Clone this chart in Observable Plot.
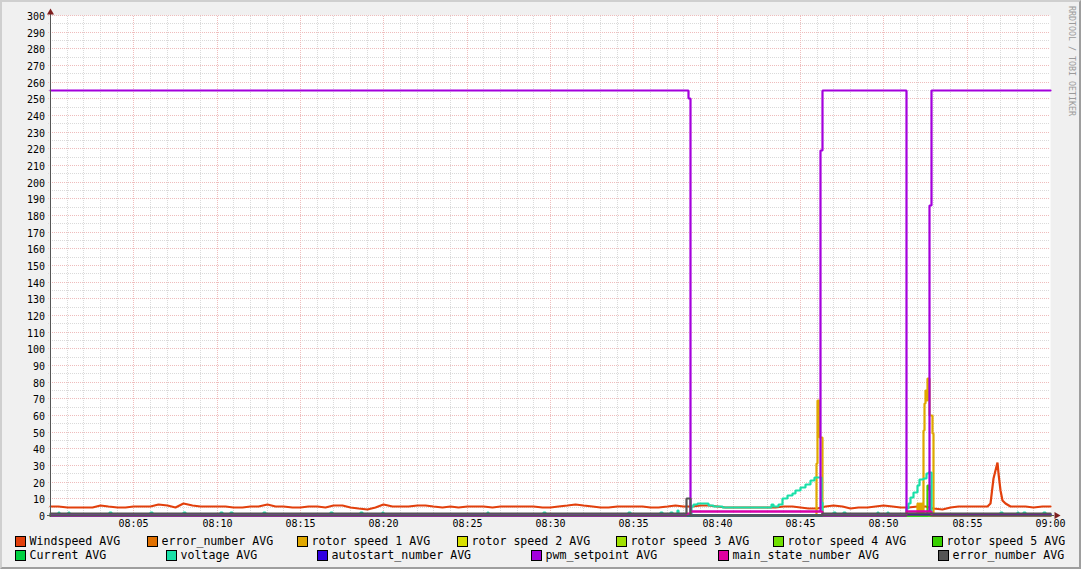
<!DOCTYPE html>
<html><head><meta charset="utf-8">
<script src="https://cdn.jsdelivr.net/npm/d3@7"></script>
<script src="https://cdn.jsdelivr.net/npm/@observablehq/plot@0.6"></script>
<style>
html,body{margin:0;padding:0;background:#f0f0f0;}
#wrap{position:relative;width:1081px;height:569px;background:#f0f0f0;overflow:hidden;font-family:"DejaVu Sans Mono",monospace;}
#chart{position:absolute;left:0;top:0;}
#legend{position:absolute;left:0;top:0;}
#shade{position:absolute;left:0;top:0;width:1081px;height:569px;box-sizing:border-box;border-top:2px solid #cfcfcf;border-left:2px solid #cfcfcf;border-right:2px solid #9e9e9e;border-bottom:2px solid #9e9e9e;pointer-events:none;}
#wm{position:absolute;left:1067px;top:6px;writing-mode:vertical-rl;font-family:"DejaVu Sans Mono",monospace;font-size:8.3px;color:#9a9a9a;white-space:nowrap;}
</style></head><body>
<div id="wrap"><div id="chart"></div><svg id="legend" width="1081" height="569"></svg><div id="wm">RRDTOOL / TOBI OETIKER</div><div id="shade"></div></div>
<script>
// ---- data (x = minutes after 08:00, y = value) ----
const xTicks = [5, 10, 15, 20, 25, 30, 35, 40, 45, 50, 55, 60];
const xTickLabels = ["08:05","08:10","08:15","08:20","08:25","08:30","08:35","08:40","08:45","08:50","08:55","09:00"];
const yTicks = [0,10,20,30,40,50,60,70,80,90,100,110,120,130,140,150,160,170,180,190,200,210,220,230,240,250,260,270,280,290,300];

const seriesNames = ["Windspeed AVG","error_number AVG","rotor speed 1 AVG","rotor speed 2 AVG","rotor speed 3 AVG","rotor speed 4 AVG","rotor speed 5 AVG","Current AVG","voltage AVG","autostart_number AVG","pwm_setpoint AVG","main_state_number AVG","error_number AVG"];
const seriesColors = ["#e2400c","#e07000","#e0a800","#d8e000","#a0e000","#70e000","#38d000","#00d040","#18e0a8","#3000e0","#a400dc","#e000a0","#555555"];

const windspeed = [[0,5.2],[0.5,5.2],[1,5.0],[1.5,5.0],[2,4.8],[2.5,4.6],[3,6.0],[3.5,5.6],[4,4.6],[4.5,4.6],[5,5.2],[5.5,5.2],[6,5.4],[6.5,6.4],[7,5.8],[7.5,5.0],[8,7.0],[8.5,6.0],[9,5.2],[9.5,5.6],[10,5.2],[10.5,5.2],[11,5.0],[11.5,5.0],[12,5.2],[12.5,5.4],[13,6.8],[13.5,5.4],[14,5.2],[14.5,4.6],[15,4.6],[15.5,5.4],[16,5.2],[16.5,4.8],[17,6.0],[17.5,5.8],[18,4.8],[18.5,4.4],[19,3.8],[19.5,5.0],[20,6.6],[20.5,5.4],[21,5.4],[21.5,5.4],[22,5.8],[22.5,6.2],[23,5.4],[23.5,4.8],[24,5.2],[24.5,4.8],[25,5.2],[25.5,5.2],[26,5.2],[26.5,5.0],[27,5.4],[27.5,5.4],[28,5.6],[28.5,5.2],[29,5.4],[29.5,5.0],[30,4.8],[30.5,5.6],[31,5.8],[31.5,6.6],[32,5.8],[32.5,5.4],[33,4.8],[33.5,5.0],[34,5.2],[34.5,5.4],[35,5.2],[35.5,5.4],[36,4.8],[36.5,4.8],[37,5.6],[37.5,6.0],[38,5.2],[38.5,5.4],[39,6.0],[39.5,6.0],[40,5.2],[40.5,5.0],[41,5.0],[41.5,4.6],[42,4.6],[42.5,4.6],[43,5.0],[43.5,5.0],[44,5.2],[44.5,5.2],[45,5.0],[45.5,4.2],[46,4.0],[46.5,5.4],[47,6.0],[47.5,5.4],[48,4.4],[48.5,4.6],[49,5.0],[49.5,5.2],[50,6.0],[50.5,5.2],[51,5.0],[51.5,5.0],[52,5.4],[52.5,5.6],[53,4.4],[53.5,3.8],[54,5.0],[54.5,5.2],[55,5.2],[55.5,5.4],[56,5.6],[56.2,5.6],[56.4,7],[56.6,22],[56.7,27],[56.8,32],[56.9,25],[57.0,15],[57.1,9],[57.3,7],[57.6,5.6],[58,5.4],[58.5,5.4],[59,5.0],[59.5,5.4],[60,5.6]];
const errorNumberA = [[0,0],[60,0]];
const rotor1 = [[0,0],[45.95,31],[46.02,69],[46.12,47],[46.3,0],[52.05,7],[52.1,2],[52.15,7],[52.2,2],[52.25,7],[52.3,0],[52.35,51],[52.42,67],[52.5,75],[52.55,69],[52.62,82],[52.72,60],[52.9,49],[52.97,0],[60,0]];
const rotor2 = [[0,0],[60,0]];
const rotor3 = [[0,0],[60,0]];
const rotor4 = [[0,0],[60,0]];
const rotor5 = [[0,0],[52.62,18],[52.72,15],[52.8,0],[60,0]];
const current = [[0,0],[60,0]];
const voltage = [[0,0.8],[0.45,2],[0.55,0.8],[1.05,2],[1.15,0.8],[3.55,2],[3.65,0.8],[6.0,2],[6.1,0.8],[8.0,2],[8.1,0.8],[10.2,2],[10.3,0.8],[10.8,2],[10.9,0.8],[12.8,2],[12.9,0.8],[16.8,2],[16.9,0.8],[18.6,2],[18.7,0.8],[19.9,2],[20.0,0.8],[26.2,2],[26.3,0.8],[29.6,2],[29.7,0.8],[34.7,2],[34.8,0.8],[36.6,2],[36.7,0.8],[37.2,2],[37.3,0.8],[37.6,3],[37.7,0.8],[38.45,5.4],[38.55,6.6],[38.8,7.4],[39.5,6],[39.8,5.4],[40.3,4.6],[41.4,5],[42.5,4.6],[43.25,6.6],[43.4,5.4],[43.7,6.8],[43.9,10],[44.2,12],[44.5,13],[44.7,15],[45.0,16.6],[45.3,18.6],[45.6,21],[45.85,23],[46.25,8],[46.3,0.6],[47.0,2],[47.1,0.6],[47.6,2],[47.7,0.6],[49.6,2],[49.7,0.6],[50.2,2],[50.3,0.6],[51.35,4],[51.5,7],[51.6,11],[51.8,14],[52.0,18],[52.15,21.4],[52.4,22],[52.55,25],[52.7,26],[52.85,0.6],[57.0,2],[57.1,0.6],[58.0,2],[58.1,0.6],[58.4,2],[58.5,0.6],[59.6,2],[59.7,0.6],[60,0.6]];
const autostart = [[0,0],[51.35,0.6],[60,0.6]];
const pwmSetpoint = [[0,255],[38.3,250],[38.4,2.6],[46.2,219],[46.3,255],[51.35,2.6],[52.75,186],[52.85,255],[60,255]];
const mainState = [[0,0],[38.15,1.4],[38.4,2.6],[46.3,0],[51.35,2.6],[52.85,0],[60,0]];
const errorNumberB = [[0,1.4],[38.15,10],[38.4,0],[46.3,1.4],[60,1.4]];

const seriesData = [windspeed, errorNumberA, rotor1, rotor2, rotor3, rotor4, rotor5, current, voltage, autostart, pwmSetpoint, mainState, errorNumberB];
const seriesCurves = ["linear","step-after","step-after","step-after","step-after","step-after","step-after","step-after","step-after","step-after","step-after","step-after","step-after"];

// ---- layout (not data) ----
const legendLefts = [15,147,297,457,616,773,932, 15,166,317,531,718,938];
const legendRows  = [0,0,0,0,0,0,0, 1,1,1,1,1,1];

const yMinor = d3.range(5, 300, 10);
const xMinor = d3.range(1, 60, 1).filter(m => m % 5 !== 0);
const xMajor = d3.range(5, 60, 5);

const X = d => d[0], Y = d => d[1];
const MONO = "DejaVu Sans Mono";

const marks = [
  Plot.frame({fill: "white", stroke: "none"}),
  Plot.ruleY(yMinor, {y: d => d, x1: -0.15, x2: 60, stroke: "#dadada", strokeDasharray: "1,1"}),
  Plot.ruleX(xMinor, {x: d => d, y1: -1.5, y2: 300, stroke: "#dadada", strokeDasharray: "1,1"}),
  Plot.ruleY(yTicks.filter(v => v > 0), {y: d => d, x1: -0.15, x2: 60, stroke: "#efbcbc", strokeDasharray: "1,1"}),
  Plot.ruleX(xMajor, {x: d => d, y1: -1.5, y2: 300, stroke: "#efbcbc", strokeDasharray: "1,1"}),
];
seriesData.forEach((data, i) => {
  marks.push(Plot.line(data, {x: X, y: Y, stroke: seriesColors[i], strokeWidth: 2.2, curve: seriesCurves[i], strokeLinejoin: "miter"}));
});
marks.push(
  Plot.ruleX([0], {y1: -1.5, y2: 302, stroke: "#555"}),
  Plot.ruleY([0], {x1: -0.18, x2: 60.25, stroke: "#555"}),
  Plot.dot([[0, 302]], {x: X, y: Y, symbol: "triangle", r: 2.6, fill: "#7f1f1f", stroke: "none"}),
  Plot.dot([[60.34, 0]], {x: X, y: Y, symbol: "triangle", r: 2.6, fill: "#7f1f1f", stroke: "none", rotate: 90}),
  Plot.text(yTicks, {x: 0, y: d => d, text: d => String(d), textAnchor: "end", dx: -5.5, dy: 0.8, fontFamily: MONO, fontSize: 10, fill: "#000"}),
  Plot.text(xTicks, {x: d => d, y: 0, text: (d, i) => xTickLabels[i], dy: 8.6, fontFamily: MONO, fontSize: 10, fill: "#000"})
);

const chart = Plot.plot({
  width: 1081, height: 530,
  marginLeft: 50, marginRight: 31, marginTop: 15, marginBottom: 15,
  x: {domain: [0, 60], axis: null, round: true},
  y: {domain: [0, 300], axis: null, round: true},
  style: {background: "transparent", overflow: "visible"},
  marks
});
document.getElementById("chart").appendChild(chart);

// ---- legend ----
const lg = d3.select("#legend");
seriesNames.forEach((name, i) => {
  const left = legendLefts[i];
  const top = legendRows[i] === 0 ? 536 : 550;
  const base = legendRows[i] === 0 ? 545 : 559;
  lg.append("rect").attr("x", left + 0.5).attr("y", top + 0.5).attr("width", 10).attr("height", 10)
    .attr("fill", seriesColors[i]).attr("stroke", "#000").attr("stroke-width", 1);
  lg.append("text").attr("x", left + 14.5).attr("y", base).attr("font-family", MONO).attr("font-size", 11.6)
    .attr("fill", "#000").attr("xml:space", "preserve").style("white-space", "pre").text(name);
});
</script>
</body></html>
